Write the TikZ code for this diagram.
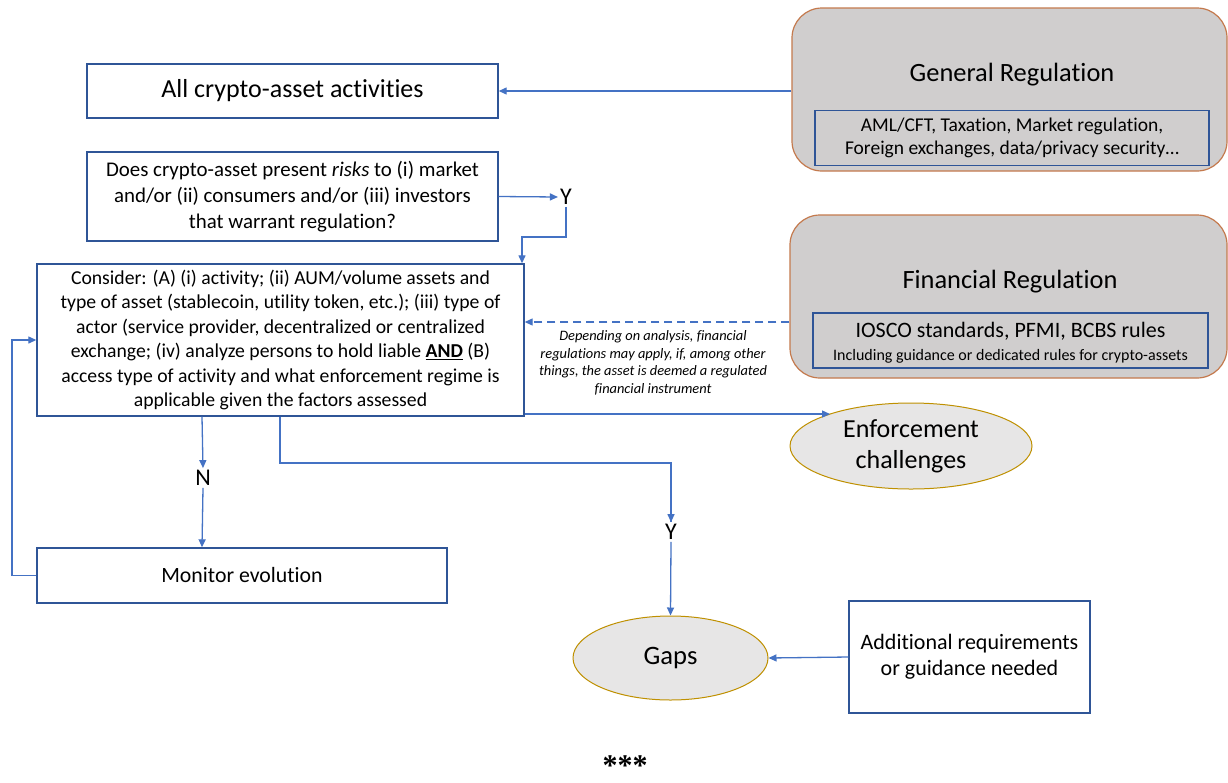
\documentclass[tikz,border=0pt]{standalone}
\usepackage{fontspec}
\setmainfont{Carlito}[Ligatures=NoCommon]
\newfontfamily\starfont{Liberation Serif}
\usetikzlibrary{arrows.meta,shapes.geometric}
\definecolor{lineblue}{HTML}{4472C4}
\definecolor{boxblue}{HTML}{2F5597}
\definecolor{regfill}{HTML}{D0CECE}
\definecolor{regedge}{HTML}{C47A4E}
\definecolor{ellfill}{HTML}{E7E6E6}
\definecolor{elledge}{HTML}{BF9000}
\newcommand\fsz[2]{\fontsize{#1}{#2}\selectfont}
\begin{document}
\begin{tikzpicture}[x=1pt,y=-1pt,
  flowbox/.style={draw=boxblue, line width=1.4pt, fill=white, inner sep=0pt, align=center, text=black},
  regbox/.style={draw=regedge, fill=regfill, rounded corners=30pt, line width=1.2pt, inner sep=0pt},
  innerbox/.style={draw=boxblue, fill=regfill, line width=1.3pt, inner sep=0pt, align=center},
  ell/.style={ellipse, draw=elledge, fill=ellfill, line width=1pt, inner sep=0pt, align=center},
  arr/.style={draw=lineblue, line width=1.3pt, -{Triangle[length=8pt,width=7pt]}},
  conn/.style={draw=lineblue, line width=1.3pt},
  yn/.style={inner sep=2pt, font=\fsz{24}{28}}
]
\useasboundingbox[fill=white] (0,0) rectangle (1228,782);

% right-hand regulation blocks
\node[regbox, minimum width=435pt, minimum height=163pt] (gen) at (1009.5,89.5) {};
\node[font=\fsz{26.4}{30}] (gent) at (1012,75) {General Regulation};
\node[innerbox, minimum width=394pt, minimum height=55pt, font=\fsz{19.5}{23.5}] (geni) at (1012,138)
  {AML/CFT, Taxation, Market regulation,\\Foreign exchanges, data/privacy security\dots};

\node[regbox, minimum width=437pt, minimum height=163pt] (fin) at (1008.5,296.5) {};
\node[font=\fsz{26.4}{30}] (fint) at (1010,282) {Financial Regulation};
\node[innerbox, minimum width=395pt, minimum height=55pt] (fini) at (1010.5,340.5) {};
\node[font=\fsz{22}{26}, inner sep=0pt] (fin1) at (1010.5,331) {IOSCO standards, PFMI, BCBS rules};
\node[font=\fsz{16}{19}, inner sep=0pt] (fin2) at (1010.5,356) {Including guidance or dedicated rules for crypto-assets};

% flow boxes
\node[flowbox, minimum width=411pt, minimum height=54pt, font=\fsz{26}{30}] (all) at (292.5,91) {All crypto-asset activities};
\node[flowbox, minimum width=411pt, minimum height=89pt, font=\fsz{20.9}{26}] (q) at (292.5,196.5)
  {Does crypto-asset present \textit{risks} to (i) market\\and/or (ii) consumers and/or (iii) investors\\that warrant regulation?};
\node[yn] (y1) at (566,197) {Y};
\node[flowbox, minimum width=487pt, minimum height=152pt, font=\fsz{19.7}{24.4}] (cons) at (280.5,340)
  {Consider: (A) (i) activity; (ii) AUM/volume assets and\\
   type of asset (stablecoin, utility token, etc.); (iii) type of\\
   actor (service provider, decentralized or centralized\\
   exchange; (iv) analyze persons to hold liable \underline{\textbf{AND}} (B)\\
   access type of activity and what enforcement regime is\\
   applicable given the factors assessed};
\node[align=center, font=\fsz{14.4}{17.5}\itshape] (note) at (653,363)
  {Depending on analysis, financial\\regulations may apply, if, among other\\things, the asset is deemed a regulated\\financial instrument};
\node[ell, minimum width=242pt, minimum height=86pt, font=\fsz{26}{31}] (enf) at (911,446) {Enforcement\\challenges};
\node[yn] (n) at (203,478) {N};
\node[yn] (y2) at (671,532) {Y};
\node[flowbox, minimum width=410pt, minimum height=55pt, font=\fsz{21.8}{25}] (mon) at (242,575.5) {Monitor evolution};
\node[ell, minimum width=195pt, minimum height=84pt, font=\fsz{26.6}{30}] (gaps) at (670.5,658) {Gaps};
\node[flowbox, minimum width=241pt, minimum height=112pt, font=\fsz{22}{26}] (add) at (969.5,657)
  {Additional requirements\\or guidance needed};
\node[font=\starfont\bfseries\fsz{30}{34}, anchor=base, inner sep=0pt] (stars) at (625,775) {***};

% connectors
\draw[arr] (gen.west |- all.east) -- (all.east);
\draw[arr] (q.east) -- (y1.west);
\coordinate (yk) at (522,237);
\draw[arr] (y1.south) |- (yk) -- (yk |- cons.north);
\coordinate (dl) at (0,322);
\draw[arr, dash pattern=on 8pt off 5pt] (fin.west |- dl) -- (cons.east |- dl);
\coordinate (ec) at (830,414);
\draw[arr] (cons.east |- ec) -- (ec);
\coordinate (nx) at (202,0);
\draw[arr] (nx |- cons.south) -- (n.north);
\draw[arr] (n.south) -- (nx |- mon.north);
\coordinate (yb) at (280,463);
\draw[conn] (yb |- cons.south) -- (yb) -| (y2.north);
\draw[arr] (y2.north) ++(0,-18) -- (y2.north);
\draw[arr] (y2.south) -- (gaps.north);
\draw[arr] (add.west) -- (gaps.east);
\coordinate (fb) at (12,340);
\draw[arr] (mon.west) -| (fb) -- (cons.west);
\end{tikzpicture}
\end{document}
